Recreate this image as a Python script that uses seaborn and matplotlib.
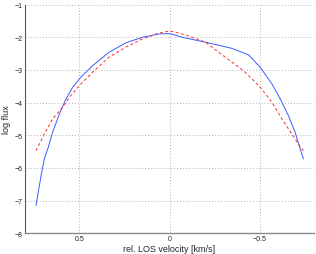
import numpy as np
import pandas as pd
import seaborn as sns
import matplotlib.pyplot as plt

# observed profile (blue, solid)
obs_v = [0.739, 0.711, 0.693, 0.674, 0.647, 0.610, 0.573, 0.536, 0.491, 0.426,
         0.335, 0.242, 0.150, 0.059, 0.022, -0.006, -0.070, -0.199, -0.346,
         -0.438, -0.502, -0.567, -0.613, -0.658, -0.695, -0.723, -0.741]
obs_flux = [-7.15, -6.24, -5.72, -5.42, -4.91, -4.35, -3.89, -3.53, -3.22, -2.87,
            -2.46, -2.17, -2.00, -1.90, -1.89, -1.89, -2.00, -2.15, -2.34,
            -2.54, -2.92, -3.43, -3.89, -4.40, -4.91, -5.42, -5.72]

# fit (red, dashed)
fit_v = [0.739, 0.693, 0.647, 0.592, 0.555, 0.50, 0.426, 0.335, 0.242, 0.150,
         0.059, 0.022, -0.006, -0.089, -0.199, -0.272, -0.346, -0.419, -0.502,
         -0.567, -0.622, -0.677, -0.713, -0.741]
fit_flux = [-5.47, -4.96, -4.50, -4.14, -3.84, -3.48, -3.07, -2.61, -2.30, -2.05,
            -1.87, -1.83, -1.81, -1.93, -2.15, -2.46, -2.76, -3.07, -3.53,
            -3.99, -4.50, -4.96, -5.27, -5.47]

xticks = [0.5, 0, -0.5]
yticks = [-8, -7, -6, -5, -4, -3, -2, -1]

obs = pd.DataFrame({"v": obs_v, "flux": obs_flux})
fit = pd.DataFrame({"v": fit_v, "flux": fit_flux})

sns.set_style("white")
plt.rcParams['font.family'] = ['Liberation Sans', 'DejaVu Sans']

fig = plt.figure(figsize=(3.16, 2.55), dpi=100)
ax = fig.add_axes([0.079, 0.081, 0.915, 0.897])

sns.lineplot(data=obs, x="v", y="flux", sort=False, color="#3a5cff", lw=0.7, ax=ax)
sns.lineplot(data=fit, x="v", y="flux", sort=False, color="#ff2a2a", lw=0.7,
             linestyle=(0, (3, 2.5)), ax=ax)

ax.set_xlim(0.8, -0.8)
ax.set_ylim(-8, -1)
ax.set_xticks(xticks)
ax.set_xticklabels(["0.5", "0", "\u22120.5"])
ax.set_yticks(yticks)
ax.set_yticklabels(["\u22128", "\u22127", "\u22126", "\u22125", "\u22124", "\u22123", "\u22122", "\u22121"])
ax.tick_params(direction="in", length=2.5, width=0.6, labelsize=5, pad=1.5, colors="#222222")
ax.grid(True, linestyle=(0, (1, 2.5)), color="#999999", lw=0.6)

for s in ["top", "right"]:
    ax.spines[s].set_visible(False)
ax.spines["left"].set_color("#555555")
ax.spines["left"].set_linewidth(0.8)
ax.spines["bottom"].set_color("#888888")
ax.spines["bottom"].set_linewidth(1.0)

ax.set_xlabel("rel. LOS velocity [km/s]", fontsize=6.5, labelpad=1)
ax.set_ylabel("log flux", fontsize=6.5, labelpad=3)

fig.savefig("out.png", dpi=100)
